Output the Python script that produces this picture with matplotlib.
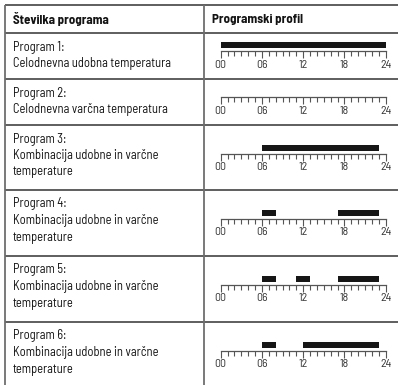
import matplotlib
matplotlib.use("Agg")
import matplotlib.pyplot as plt
from matplotlib.ticker import MultipleLocator, FixedLocator

plt.rcParams['font.family'] = ['Barlow Semi Condensed', 'Barlow Condensed', 'DejaVu Sans']

# table content
header_left = "Številka programa"
header_right = "Programski profil"
program_names = ["Program 1:", "Program 2:", "Program 3:", "Program 4:", "Program 5:", "Program 6:"]
descriptions = [
    "Celodnevna udobna temperatura",
    "Celodnevna varčna temperatura",
    "Kombinacija udobne in varčne\ntemperature",
    "Kombinacija udobne in varčne\ntemperature",
    "Kombinacija udobne in varčne\ntemperature",
    "Kombinacija udobne in varčne\ntemperature",
]
# comfort periods (start hour, end hour)
comfort_periods = [
    [(0, 24)],
    [],
    [(6, 23)],
    [(6, 8), (17, 23)],
    [(6, 8), (11, 13), (17, 23)],
    [(6, 8), (12, 23)],
]
hour_ticks = [0, 6, 12, 18, 24]
hour_labels = ["00", "06", "12", "18", "24"]

W, H = 398, 385
fig = plt.figure(figsize=(W / 100, H / 100), dpi=100)
bg = fig.add_axes([0, 0, 1, 1])
bg.set_xlim(0, W)
bg.set_ylim(H, 0)
bg.axis('off')

# layout in pixels
row_edges = [5, 33, 79, 125, 190, 256, 322, 390]
x_left, x_mid, x_right = 5, 204, 400
line_col = '#333333'
text_col = '#141414'

for y in row_edges[:-1]:
    bg.plot([x_left, x_right], [y, y], color=line_col, lw=1.1, solid_capstyle='butt')
for x in (x_left, x_mid):
    bg.plot([x, x], [row_edges[0], row_edges[-1]], color='#6e6e6e', lw=1.3, solid_capstyle='butt')

bg.text(13, 19.5, header_left, fontsize=9.3, fontweight='bold', color=text_col, va='center')
bg.text(212, 19.5, header_right, fontsize=9.3, fontweight='bold', color=text_col, va='center')

for i, (name, desc) in enumerate(zip(program_names, descriptions)):
    top = row_edges[i + 1]
    lines = [name] + desc.split("\n")
    for k, line in enumerate(lines):
        bg.text(13, top + 14 + k * 16.5, line, fontsize=9, color=text_col,
                va='center', ha='left')

    base = top + (18 if len(lines) == 2 else 28.5)
    ax = fig.add_axes([220.7 / W, 1 - base / H, 165 / W, 9 / H])
    ax.set_xlim(0, 24)
    ax.set_ylim(0, 9)
    spans = [(a, b - a) for a, b in comfort_periods[i]]
    ax.broken_barh(spans, (2.5, 6), facecolors='#161616', edgecolor='none')
    for s in ('top', 'left', 'right'):
        ax.spines[s].set_visible(False)
    ax.spines['bottom'].set_color('#555555')
    ax.spines['bottom'].set_linewidth(0.9)
    ax.patch.set_alpha(0)
    ax.set_yticks([])
    ax.xaxis.set_major_locator(FixedLocator(hour_ticks))
    ax.set_xticklabels(hour_labels)
    ax.xaxis.set_minor_locator(MultipleLocator(1))
    ax.tick_params(axis='x', which='major', length=5, width=0.8, color='#555555',
                   labelsize=8.5, pad=1.2, labelcolor='#333333')
    ax.tick_params(axis='x', which='minor', length=3.5, width=0.8, color='#555555')

fig.savefig("out.png", dpi=100)
